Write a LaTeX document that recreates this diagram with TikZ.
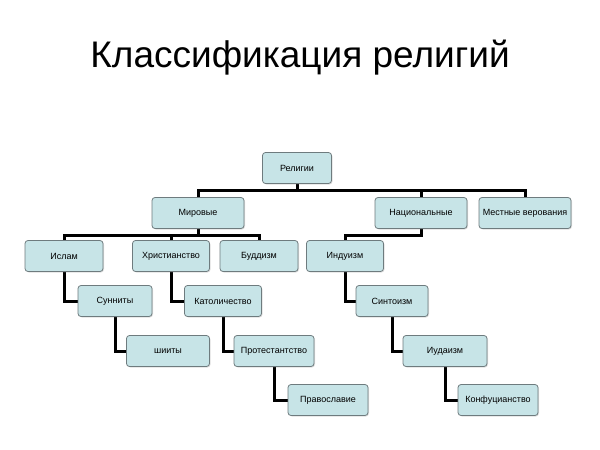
\documentclass[tikz,border=0pt]{standalone}
\usepackage{fontspec}
\setmainfont{Liberation Sans}
\usepackage{tikz}
\usetikzlibrary{shadows,backgrounds}
\definecolor{boxfill}{HTML}{C7E4E7}
\definecolor{boxline}{HTML}{6E7B7E}
\tikzset{
  rel/.style={draw=boxline,fill=boxfill,rounded corners=3pt,line width=0.8pt,
    minimum height=31pt,inner sep=1pt,font=\fontsize{9}{10}\selectfont,
    drop shadow={shadow xshift=1pt,shadow yshift=-1pt,opacity=0.25}},
  link/.style={line width=3pt,black}
}
\begin{document}
\begin{tikzpicture}[x=1pt,y=1pt,yscale=-1,xscale=1]
\useasboundingbox (0,0) rectangle (600,450);

% Title
\node (title) at (300,58) {\fontsize{37}{42}\selectfont Классификация религий};

% Nodes
\node[rel,minimum width=69pt] (religii) at (297,168) {Религии};
\node[rel,minimum width=92pt] (mirovye) at (198,213) {Мировые};
\node[rel,minimum width=92pt] (nacion) at (421,213) {Национальные};
\node[rel,minimum width=92pt] (mestnye) at (525,213) {Местные верования};
\node[rel,minimum width=78pt] (islam) at (64,256) {Ислам};
\node[rel,minimum width=77pt] (hrist) at (171,256) {Христианство};
\node[rel,minimum width=78pt] (budd) at (259,256) {Буддизм};
\node[rel,minimum width=77pt] (indu) at (345,256) {Индуизм};
\node[rel,minimum width=74pt] (sunn) at (115,301) {Сунниты};
\node[rel,minimum width=83pt] (shii) at (168,351) {шииты};
\node[rel,minimum width=77pt] (katol) at (223,301) {Католичество};
\node[rel,minimum width=80pt] (protest) at (274,351) {Протестантство};
\node[rel,minimum width=80pt] (pravo) at (328,400) {Православие};
\node[rel,minimum width=72pt] (sinto) at (392,301) {Синтоизм};
\node[rel,minimum width=84pt] (iuda) at (445,351) {Иудаизм};
\node[rel,minimum width=80pt] (konf) at (498,400) {Конфуцианство};

% connectors
\coordinate (bar1) at (297,190);
\coordinate (bar2) at (198,235);
\coordinate (bar3) at (421,235);
\begin{scope}[on background layer]
\draw[link] (religii) -- (bar1);
\draw[link] (mirovye) |- (bar1) -| (mestnye);
\draw[link] (bar1) -| (nacion);
\draw[link] (mirovye) -- (bar2);
\draw[link] (bar2) -| (islam);
\draw[link] (bar2) -| (hrist);
\draw[link] (bar2) -| (budd);
\draw[link] (nacion) -- (bar3) -| (indu);
\draw[link] (islam.center) |- (sunn);
\draw[link] (sunn.center) |- (shii);
\draw[link] (hrist.center) |- (katol);
\draw[link] (katol.center) |- (protest);
\draw[link] (protest.center) |- (pravo);
\draw[link] (indu.center) |- (sinto);
\draw[link] (sinto.center) |- (iuda);
\draw[link] (iuda.center) |- (konf);
\end{scope}
\end{tikzpicture}
\end{document}
